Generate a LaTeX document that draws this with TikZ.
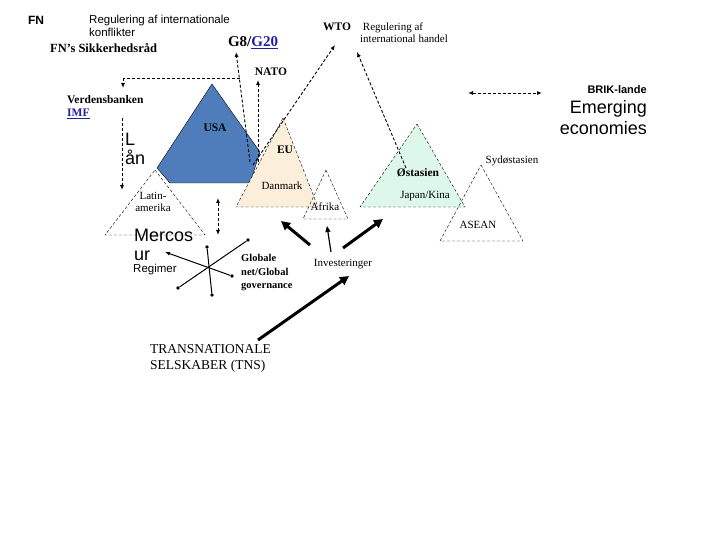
\documentclass[tikz,border=0pt]{standalone}
\usepackage{fontspec}
\setmainfont{Liberation Serif}
\newfontfamily\sans{Liberation Sans}
\usetikzlibrary{arrows.meta}
\definecolor{usab}{HTML}{4F7DBC}
\definecolor{eub}{HTML}{FBEEDA}
\definecolor{asb}{HTML}{DDF8EA}
\definecolor{lnk}{HTML}{1F1FA0}
\begin{document}
\begin{tikzpicture}[x=1pt,y=-1pt,
  dl/.style={densely dashed,line width=0.9pt,-{Latex[length=5pt,width=4pt]}},
  tri/.style={draw,densely dashed,line width=0.4pt},
  thick arr/.style={line width=3pt,-{Triangle[length=9pt,width=9pt]}},
  st/.style={line width=1pt},
  dot/.style={circle,fill,inner sep=1.3pt},
  t/.style={inner sep=0pt,font=\fontsize{11}{12}\selectfont},
  tb/.style={t,font=\fontsize{11.5}{13}\selectfont\bfseries},
  ts/.style={t,font=\sans\fontsize{11.5}{13}\selectfont},
  tl/.style={t,font=\sans\fontsize{18}{19}\selectfont}]
\useasboundingbox (0,0) rectangle (720,540);
% shapes
\draw[fill=usab] (212,84) -- (260,152) -- (250,183) -- (170,183) -- (157,168) -- cycle;
\draw[tri,fill=eub] (283,118) -- (318,207) -- (236,207) -- cycle;
\draw[tri] (326,170) -- (348,219) -- (303,219) -- cycle;
\draw[tri,fill=asb] (417,124) -- (465,207) -- (360,207) -- cycle;
\draw[tri] (481,165) -- (523,241) -- (440,241) -- cycle;
\draw[tri] (155,170) -- (205,235) -- (105,235) -- cycle;
% texts
\node[ts,font=\sans\bfseries\fontsize{12}{13}\selectfont] (fn) at (36,20) {FN};
\node[ts,anchor=west,align=left] (reg) at (89,26) {Regulering af internationale\\konflikter};
\node[tb,anchor=west,font=\fontsize{12.5}{14}\selectfont\bfseries] (sik) at (50,48) {FN's Sikkerhedsråd};
\node[t,font=\bfseries\fontsize{15}{16}\selectfont] (g8) at (253,43) {G8/\textcolor{lnk}{\underline{G20}}};
\node[tb] (wto) at (337,27) {WTO};
\node[t,align=center] (regh) at (393,33) {Regulering af\\\hspace*{2em}international handel};
\node[tb] (nato) at (271,72) {NATO};
\node[tb,anchor=west,align=left] (vb) at (67,107) {Verdensbanken\\\textcolor{lnk}{\underline{IMF}}};
\node[tl,anchor=west,align=left] (lan) at (125,149) {L\\ån};
\node[tb] (usa) at (215,128) {USA};
\node[tb] (eu) at (285,150) {EU};
\node[t] (dk) at (282,186) {Danmark};
\node[t] (afr) at (325,207) {Afrika};
\node[tb] (ost) at (418,173) {Østasien};
\node[t] (jk) at (425,196) {Japan/Kina};
\node[t] (syd) at (512,161) {Sydøstasien};
\node[t] (asean) at (478,225) {ASEAN};
\node[t,align=center] (lat) at (153,202) {Latin-\\amerika};
\node[tl,anchor=west,align=left] (mer) at (134,245) {Mercos\\ur};
\node[ts,font=\sans\fontsize{11.5}{13}\selectfont,anchor=west] (regi) at (133,270) {Regimer};
\node[tb,anchor=west,align=left,font=\bfseries\fontsize{10.5}{13.5}\selectfont] (glob) at (241,273) {Globale\\net/Global\\governance};
\node[t] (inv) at (343,264) {Investeringer};
\node[t,anchor=west,align=left,font=\fontsize{13.5}{16}\selectfont] (tns) at (150,358) {TRANSNATIONALE\\SELSKABER (TNS)};
\node[ts,font=\sans\bfseries\fontsize{11}{12}\selectfont,anchor=east] (brik) at (647,90) {BRIK-lande};
\node[tl,anchor=east,align=right,font=\sans\fontsize{18}{21}\selectfont] (emer) at (647,118) {Emerging\\economies};
% coordinates
\coordinate (tl1) at (123,78); \coordinate (tl2) at (240,78); \coordinate (tl3) at (123,88);
\coordinate (g8b) at (250,162); \coordinate (g8t) at (236,52);
\coordinate (nb) at (258,162); \coordinate (nt) at (258,80);
\coordinate (wb) at (253,165); \coordinate (wt) at (335,45);
\coordinate (rb) at (406,168); \coordinate (rt) at (357,52);
\coordinate (l1) at (122,118); \coordinate (l2) at (122,190);
\coordinate (b1) at (468,93); \coordinate (b2) at (542,93);
\coordinate (v1) at (218,198); \coordinate (v2) at (218,235);
% dashed connectors
\draw[densely dashed,line width=0.9pt] (tl2) -- (tl1);
\draw[dl] (tl1) -- (tl3);
\draw[dl] (g8b) -- (g8t);
\draw[dl] (nb) -- (nt);
\draw[dl] (wb) -- (wt);
\draw[dl] (rb) -- (rt);
\draw[dl] (l1) -- (l2);
\draw[dl,{Latex[length=5pt,width=4pt]}-{Latex[length=5pt,width=4pt]}] (b1) -- (b2);
\draw[dl,{Latex[length=5pt,width=4pt]}-{Latex[length=5pt,width=4pt]}] (v1) -- (v2);
% star
\node[dot] (s1) at (232,276) {}; \coordinate (s1b) at (165,252);
\node[dot] (s2) at (178,288) {}; \node[dot] (s3) at (248,240) {};
\node[dot] (s4) at (207,247) {}; \node[dot] (s5) at (212,295) {};
\draw[st,-{Latex[length=5pt]}] (s1) -- (s1b);
\draw[st] (s2) -- (s3);
\draw[st] (s4) -- (s5);
% thick arrows
\coordinate (a1s) at (310,245); \coordinate (a1e) at (281,221);
\coordinate (a2s) at (331,252); \coordinate (a2e) at (327,226);
\coordinate (a3s) at (343,248); \coordinate (a3e) at (383,219);
\coordinate (a4s) at (258,340); \coordinate (a4e) at (349,276);
\draw[thick arr] (a1s) -- (a1e);
\draw[line width=1.2pt,-{Triangle[length=6pt,width=5pt]}] (a2s) -- (a2e);
\draw[thick arr] (a3s) -- (a3e);
\draw[thick arr] (a4s) -- (a4e);
\end{tikzpicture}
\end{document}
